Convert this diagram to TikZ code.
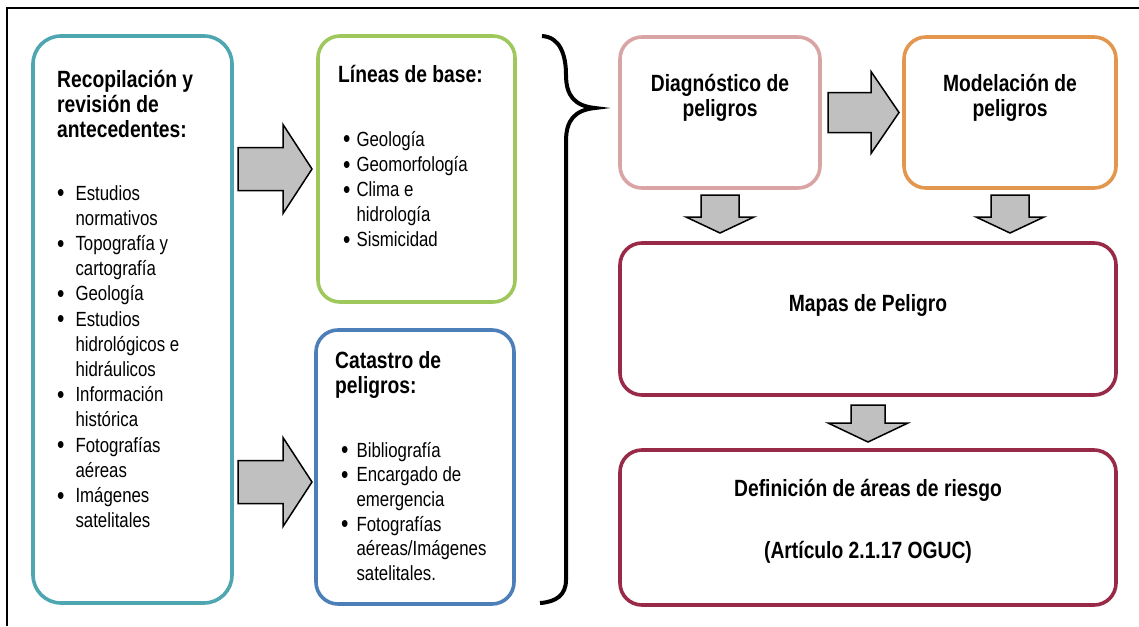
\documentclass[tikz,border=0pt]{standalone}
\usepackage{fontspec}
\setmainfont{Liberation Sans}[FakeStretch=0.82]
\usepackage{tikz}
\usetikzlibrary{calc}

\definecolor{cteal}{RGB}{78,166,176}
\definecolor{cgreen}{RGB}{158,200,92}
\definecolor{cblue}{RGB}{76,126,184}
\definecolor{cpink}{RGB}{216,164,164}
\definecolor{corange}{RGB}{226,150,78}
\definecolor{ccrimson}{RGB}{152,42,72}
\definecolor{cgray}{RGB}{192,192,192}

% block arrows: start, tip, shaft half width, head half width, head length
\newcommand{\flechaH}[5]{%
  \draw[flecha] let \p1=(#1), \p2=(#2) in
    (\x1,\y1+#3pt) -- (\x2-#5pt,\y1+#3pt) -- (\x2-#5pt,\y1+#4pt) -- (\x2,\y1)
    -- (\x2-#5pt,\y1-#4pt) -- (\x2-#5pt,\y1-#3pt) -- (\x1,\y1-#3pt) -- cycle;}
\newcommand{\flechaV}[5]{%
  \draw[flecha] let \p1=(#1), \p2=(#2) in
    (\x1-#3pt,\y1) -- (\x1-#3pt,\y2+#5pt) -- (\x1-#4pt,\y2+#5pt) -- (\x1,\y2)
    -- (\x1+#4pt,\y2+#5pt) -- (\x1+#3pt,\y2+#5pt) -- (\x1+#3pt,\y1) -- cycle;}

\newcommand{\titulos}[1]{\begin{tabular}[t]{@{}l@{}}#1\end{tabular}}
\newcommand{\vinetas}[2]{\begin{tabular}[t]{@{}l@{\hspace{#1pt}}l@{}}#2\end{tabular}}
\newcommand{\pto}{\raisebox{-1.8pt}{\scalebox{1.25}{\textbullet}}}

\begin{document}
\begin{tikzpicture}[x=1pt, y=-1pt,
  caja/.style={draw, line width=3.6pt, rounded corners=22pt, outer sep=0pt, inner sep=0pt},
  flecha/.style={draw=black, fill=cgray, line width=1.5pt, line join=miter},
  titulo/.style={inner sep=0pt, font=\fontsize{23.5}{25}\selectfont\bfseries},
  items/.style={inner sep=0pt, font=\fontsize{20.5}{25.2}\selectfont}]
  \useasboundingbox (0,0) rectangle (1139,626);
  \draw[line width=2pt] (7,626) -- (7,8) -- (1139,8);

  % left column
  \node[caja, draw=cteal, minimum width=199pt, minimum height=567pt, rounded corners=28pt] (recop) at (132.5,319.5) {};
  \node[titulo, anchor=base west] (recoptit) at ($(recop.north west)+(24,51)$)
    {\titulos{Recopilación y\\ revisión de\\ antecedentes:}};
  \node[items, anchor=base west] (recopitems) at ($(recop.north west)+(24,164)$)
    {\vinetas{11}{\pto & Estudios\\ & normativos\\ \pto & Topografía y\\ & cartografía\\
      \pto & Geología\\ \pto & Estudios\\ & hidrológicos e\\ & hidráulicos\\
      \pto & Información\\ & histórica\\ \pto & Fotografías\\ & aéreas\\
      \pto & Imágenes\\ & satelitales}};

  % middle column
  \node[caja, draw=cgreen, minimum width=197pt, minimum height=266pt] (base) at (416.5,169) {};
  \node[titulo, anchor=base west] (basetit) at ($(base.north west)+(20,46)$) {Líneas de base:};
  \node[items, anchor=base west] (baseitems) at ($(base.north west)+(25,110)$)
    {\vinetas{6}{\pto & Geología\\ \pto & Geomorfología\\ \pto & Clima e\\
      & hidrología\\ \pto & Sismicidad}};

  \node[caja, draw=cblue, minimum width=198pt, minimum height=274pt] (catastro) at (415,467) {};
  \node[titulo, anchor=base west] (catastrotit) at ($(catastro.north west)+(19,38)$)
    {\titulos{Catastro de\\ peligros:}};
  \node[items, anchor=base west, font=\fontsize{20.5}{24.7}\selectfont] (catastroitems) at ($(catastro.north west)+(25,127)$)
    {\vinetas{8}{\pto & Bibliografía\\ \pto & Encargado de\\ & emergencia\\
      \pto & Fotografías\\ & aéreas/Imágenes\\ & satelitales.}};

  \coordinate (f1a) at ($(recop.east |- base.west)+(6,0)$);
  \coordinate (f1b) at ($(base.west)+(-6,0)$);
  \flechaH{f1a}{f1b}{21.5}{44.5}{29}
  \coordinate (f2a) at ($(recop.east |- catastro.west)+(6,15)$);
  \coordinate (f2b) at ($(catastro.west)+(-4,15)$);
  \flechaH{f2a}{f2b}{21.5}{44.5}{29}

  % brace
  \draw[line width=4pt] (542,36) .. controls (560,37) and (566,55) .. (566,75)
    .. controls (566,96) and (575,106) .. (595,108)
    .. controls (575,110) and (566,120) .. (566,141) -- (566,580)
    .. controls (566,595) and (556,602) .. (540,603);

  % right column
  \node[caja, draw=cpink, minimum width=200pt, minimum height=151pt] (diag) at (720,112.5) {};
  \node[caja, draw=corange, minimum width=212pt, minimum height=151pt] (model) at (1010,112.5) {};
  \node[caja, draw=ccrimson, minimum width=496pt, minimum height=152pt] (mapas) at (868,319) {};
  \node[caja, draw=ccrimson, minimum width=496pt, minimum height=155pt] (defin) at (868,527.5) {};

  \node[titulo, anchor=base] (diagtit) at ($(diag.north)+(0,54)$)
    {\begin{tabular}[t]{@{}c@{}}Diagnóstico de\\ peligros\end{tabular}};
  \node[titulo, anchor=base] (modeltit) at ($(model.north)+(0,54)$)
    {\begin{tabular}[t]{@{}c@{}}Modelación de\\ peligros\end{tabular}};
  \node[titulo, anchor=base] (mapastit) at ($(mapas.north)+(0,68)$) {Mapas de Peligro};
  \node[titulo, anchor=base] (defintit) at ($(defin.north)+(0,46)$) {Definición de áreas de riesgo};
  \node[titulo, anchor=base] (definart) at ($(defin.north)+(0,108)$) {(Artículo 2.1.17 OGUC)};

  \coordinate (f3a) at ($(diag.east)+(8,0)$);
  \coordinate (f3b) at ($(model.west)+(-5,0)$);
  \flechaH{f3a}{f3b}{20}{41}{28}
  \coordinate (f4a) at ($(diag.south)+(0,7)$);
  \coordinate (f4b) at ($(diag.south |- mapas.north)+(0,-10)$);
  \flechaV{f4a}{f4b}{19}{34}{16}
  \coordinate (f5a) at ($(model.south)+(0,7)$);
  \coordinate (f5b) at ($(model.south |- mapas.north)+(0,-10)$);
  \flechaV{f5a}{f5b}{19}{34}{16}
  \coordinate (f6a) at ($(mapas.south)+(0,10)$);
  \coordinate (f6b) at ($(defin.north)+(0,-8)$);
  \flechaV{f6a}{f6b}{17}{40}{19}
\end{tikzpicture}
\end{document}
